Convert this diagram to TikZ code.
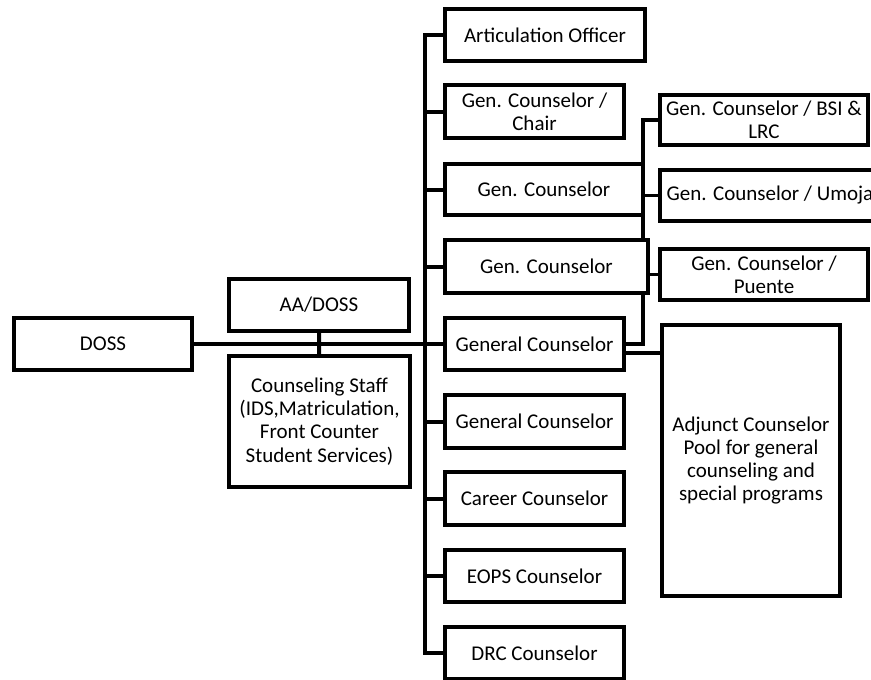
\documentclass[tikz,border=0pt]{standalone}
\usepackage{fontspec}
\setmainfont{Carlito}
\usetikzlibrary{backgrounds}
\begin{document}
\begin{tikzpicture}[x=1pt,y=-1pt,
  box/.style={draw=black, line width=4pt, fill=white, align=center,
    inner sep=0pt, font=\fontsize{21}{23.3}\selectfont},
  conn/.style={draw=black, line width=4pt, line join=miter}]
\useasboundingbox (0,0) rectangle (871,680);
\clip (0,0) rectangle (871,680);
% left
\node[box, minimum width=178pt, minimum height=52pt] (doss) at (103,344) {DOSS};
\node[box, minimum width=180pt, minimum height=52pt] (aa) at (319,305) {AA/DOSS};
\node[box, minimum width=181pt, minimum height=131pt] (staff) at (319.5,421.5)
  {Counseling Staff\\(IDS,Matriculation,\\Front Counter\\Student Services)};
% column
\node[box, minimum width=200pt, minimum height=52pt] (art) at (545,35) {Articulation Officer};
\node[box, minimum width=179pt, minimum height=53pt] (chair) at (534.5,111.5) {Gen. Counselor /\\Chair};
\node[box, minimum width=198pt, minimum height=51pt] (gca) at (544,189.5) {Gen. Counselor};
\node[box, minimum width=203pt, minimum height=53pt] (gcb) at (546.5,266.5) {Gen. Counselor};
\node[box, minimum width=179pt, minimum height=52pt] (gcm) at (534.5,344) {General Counselor};
\node[box, minimum width=179pt, minimum height=53pt] (gcc) at (534.5,421.5) {General Counselor};
\node[box, minimum width=179pt, minimum height=53pt] (car) at (534.5,498.5) {Career Counselor};
\node[box, minimum width=179pt, minimum height=52pt] (eops) at (534.5,576) {EOPS Counselor};
\node[box, minimum width=179pt, minimum height=52pt] (drc) at (534.5,653) {DRC Counselor};
% right
\node[box, minimum width=208pt, minimum height=50pt] (bsi) at (764,120) {Gen. Counselor / BSI \&\\LRC};
\node[box, minimum width=220pt, minimum height=51pt] (umoja) at (770,195.5) {Gen. Counselor / Umoja};
\node[box, minimum width=208pt, minimum height=51pt] (puente) at (764,274.5) {Gen. Counselor /\\Puente};
\node[box, minimum width=178pt, minimum height=271pt] (adj) at (751,460.5)
  {Adjunct Counselor\\Pool for general\\counseling and\\special programs};
\coordinate (tk) at (425,0);
\coordinate (rv) at (643,0);
\begin{scope}[on background layer]
  \draw[conn] (doss) -- (gcm);
  \draw[conn] (aa) -- (staff);
  \draw[conn] (art.west) -| (tk |- drc.west) -- (drc.west);
  \foreach \n in {chair,gca,gcb,gcm,gcc,car,eops}
    \draw[conn] (\n.west) -- (\n.west -| tk);
  \draw[conn, line width=3.5pt] (bsi.west) -| (rv |- gcm.east) -- (gcm.east);
  \draw[conn, line width=3.5pt] (umoja.west) -- (umoja.west -| rv);
  \draw[conn, line width=3.5pt] (puente.west) -- (puente.west -| rv);
  \draw[conn] ([yshift=-9pt]gcm.east) -- ([yshift=-9pt]gcm.east -| adj.west);
\end{scope}
\end{tikzpicture}
\end{document}
